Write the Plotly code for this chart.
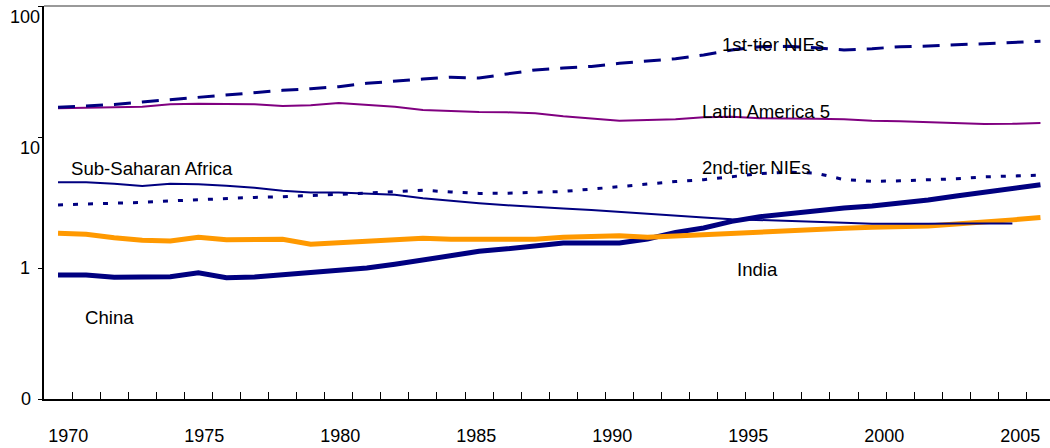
import plotly.graph_objects as go

# Data (log scale)
years = list(range(1970, 2006))

first_tier_nies = [16.86, 17.24, 17.71, 18.50, 19.26, 20.02, 20.92, 21.87, 22.73, 23.37,
                   24.2, 25.7, 26.8, 27.7, 28.6, 28.2, 30.3, 32.5, 33.6, 34.6,
                   36.5, 38.0, 39.6, 42.3, 46.1, 48.9, 49.2, 48.1, 46.1, 47.2,
                   48.9, 49.5, 50.6, 51.9, 52.8, 53.8]
latin_america_5 = [16.56, 16.74, 16.86, 17.04, 17.77, 17.96, 17.86, 17.77, 17.24, 17.44,
                   18.2, 17.65, 17.04, 16.07, 15.71, 15.51, 15.44, 15.17, 14.39, 13.89,
                   13.32, 13.49, 13.65, 14.14, 14.3, 13.89, 13.89, 13.8, 13.65, 13.32,
                   13.18, 13.02, 12.72, 12.56, 12.6, 12.79]
sub_saharan_africa = [4.51, 4.51, 4.40, 4.22, 4.40, 4.36, 4.25, 4.10, 3.89, 3.77,
                      3.77, 3.70, 3.63, 3.41, 3.25, 3.12, 3.01, 2.91, 2.84, 2.77,
                      2.68, 2.58, 2.48, 2.43, 2.36, 2.33, 2.30, 2.26, 2.22, 2.18,
                      2.17, 2.18, 2.19, 2.19, 2.19, None]
second_tier_nies = [3.03, 3.07, 3.11, 3.17, 3.25, 3.32, 3.41, 3.46, 3.50, 3.56,
                    3.65, 3.74, 3.85, 3.92, 3.81, 3.71, 3.72, 3.76, 3.84, 4.00,
                    4.18, 4.40, 4.57, 4.72, 4.98, 5.25, 5.40, 5.30, 4.73, 4.59,
                    4.63, 4.70, 4.80, 4.96, 5.05, 5.12]
india = [1.84, 1.81, 1.70, 1.63, 1.61, 1.72, 1.64, 1.66, 1.66, 1.52,
         1.56, 1.60, 1.63, 1.69, 1.66, 1.66, 1.66, 1.66, 1.72, 1.74,
         1.76, 1.72, 1.76, 1.80, 1.86, 1.90, 1.96, 1.99, 2.01, 2.05,
         2.08, 2.09, 2.17, 2.23, 2.33, 2.43]
china = [0.884, 0.884, 0.85, 0.85, 0.858, 0.92, 0.843, 0.853, 0.889, 0.916,
         0.954, 1.00, 1.067, 1.151, 1.24, 1.34, 1.40, 1.48, 1.55, 1.55,
         1.55, 1.665, 1.87, 2.02, 2.27, 2.46, 2.60, 2.74, 2.87, 2.97,
         3.12, 3.30, 3.54, 3.78, 4.06, 4.32]

xtick_years = [1970, 1975, 1980, 1985, 1990, 1995, 2000, 2005]
ytick_vals = [0.1, 1, 10, 100]
ytick_text = ["0", "1", "10", "100"]

NAVY = "#000080"
PURPLE = "#800080"
ORANGE = "#FF9900"
FONT = "Arial, Liberation Sans, sans-serif"

fig = go.Figure()

series = [
    (china, NAVY, 5, "solid"),
    (india, ORANGE, 5, "solid"),
    (sub_saharan_africa, NAVY, 2, "solid"),
    (latin_america_5, PURPLE, 2, "solid"),
    (first_tier_nies, NAVY, 3, "17px,11px"),
    (second_tier_nies, NAVY, 3, "5px,10px"),
]
for vals, col, w, dash in series:
    fig.add_trace(go.Scatter(x=years, y=vals, mode="lines",
                             line=dict(color=col, width=w, dash=dash),
                             showlegend=False, hoverinfo="skip"))

# invisible helper so the label axis (xaxis2) gets drawn
fig.add_trace(go.Scatter(x=[xtick_years[0]], y=[1], xaxis="x2", mode="markers",
                         marker=dict(opacity=0), showlegend=False, hoverinfo="skip"))

# series labels
labels = [
    ("1st-tier NIEs", 0.6717, 0.9033),
    ("Latin America 5", 0.6518, 0.7316),
    ("Sub-Saharan Africa", 0.0249, 0.5865),
    ("2nd-tier NIEs", 0.6518, 0.5878),
    ("India", 0.6866, 0.3295),
    ("China", 0.0388, 0.2074),
]
annotations = [dict(text=t, x=x, y=y, xref="paper", yref="paper", xanchor="left",
                    yanchor="middle", showarrow=False, font=dict(size=18.6, color="black"))
               for t, x, y in labels]

# y tick labels sit a little off their ticks in the original
ylab_pos = [(-0.0181, 0.0), (-0.0191, 0.3333), (-0.0142, 0.6387), (-0.0186, 0.9728)]
for txt, (x, y) in zip(ytick_text, ylab_pos):
    annotations.append(dict(text=txt, x=x, y=y, xref="paper", yref="paper",
                            xanchor="center", yanchor="middle", showarrow=False,
                            font=dict(size=18, color="black")))

fig.update_layout(
    width=1050, height=448,
    margin=dict(l=44, r=0, t=6, b=49),
    paper_bgcolor="white", plot_bgcolor="white",
    font=dict(family=FONT, size=18, color="black"),
    showlegend=False,
    xaxis=dict(range=[1969.5, 2005.34], tickmode="linear", tick0=1969.5, dtick=1,
               ticks="inside", ticklen=7, tickwidth=1, tickcolor="black",
               showticklabels=False, showgrid=False, zeroline=False,
               showline=True, linecolor="black", linewidth=2),
    xaxis2=dict(overlaying="x", anchor="y", side="bottom",
                range=[1969.107, 2006.09], tickmode="array", tickvals=xtick_years,
                ticktext=[str(y) for y in xtick_years], ticks="", showline=False,
                showgrid=False, zeroline=False, ticklabelstandoff=24,
                automargin=False, tickfont=dict(size=18, color="black")),
    yaxis=dict(type="log", range=[-1, 2], tickmode="array", tickvals=ytick_vals,
               ticks="outside", ticklen=4, tickcolor="black", showticklabels=False,
               showgrid=False, zeroline=False, showline=True, linecolor="black",
               linewidth=2),
    annotations=annotations,
    shapes=[dict(type="line", xref="paper", yref="paper", x0=0, x1=1, y0=1, y1=1,
                 line=dict(color="#999999", width=2))],
)

fig.write_html("out.html", config={"displayModeBar": False},
               post_script="document.body.style.margin='0px';")
